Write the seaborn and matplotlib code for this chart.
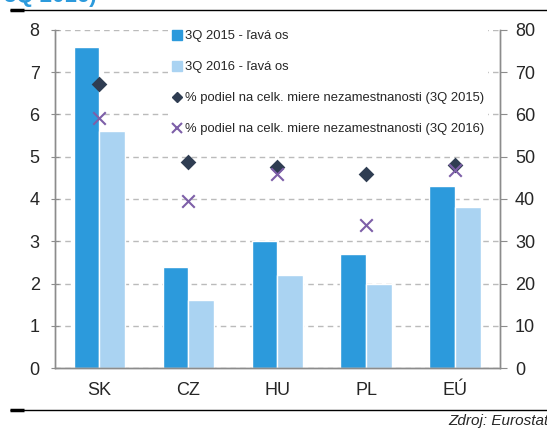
import numpy as np
import pandas as pd
import seaborn as sns
import matplotlib.pyplot as plt
from matplotlib.lines import Line2D
from matplotlib import font_manager

countries = ["SK", "CZ", "HU", "PL", "EÚ"]
rate_2015 = [7.6, 2.4, 3.0, 2.7, 4.3]
rate_2016 = [5.6, 1.6, 2.2, 2.0, 3.8]
share_2015 = [67.3, 48.8, 47.6, 45.8, 48.0]
share_2016 = [59.2, 39.4, 46.0, 33.8, 46.8]
lab_b15 = "3Q 2015 - ľavá os"
lab_b16 = "3Q 2016 - ľavá os"
lab_s15 = "% podiel na celk. miere nezamestnanosti (3Q 2015)"
lab_s16 = "% podiel na celk. miere nezamestnanosti (3Q 2016)"

c15 = "#2C9ADC"
c16 = "#AAD3F2"
c_dia = "#2F3D52"
c_x = "#7D5FA8"
grey = "#8C8C8C"

names = {f.name for f in font_manager.fontManager.ttflist}
fam = "Liberation Sans Narrow" if "Liberation Sans Narrow" in names else "Liberation Sans"

sns.set_style("white")
plt.rcParams["font.family"] = [fam, "DejaVu Sans"]

df = pd.DataFrame({
    "country": countries * 2,
    "rate": rate_2015 + rate_2016,
    "serie": [lab_b15] * 5 + [lab_b16] * 5,
})
df_s = pd.DataFrame({"country": countries, "s15": share_2015, "s16": share_2016})

fig = plt.figure(figsize=(5.47, 4.32), dpi=100)
ax = fig.add_axes([0.1005, 0.148, 0.813, 0.783])

sns.barplot(ax=ax, data=df, x="country", y="rate", hue="serie", order=countries,
            palette=[c15, c16], width=0.58, gap=0, saturation=1, legend=False)
ax.set_ylim(0, 8)
ax.set_xlim(-0.5, 4.5)
ax.set_yticks(np.arange(0, 9, 1))
ax.yaxis.grid(True, linestyle=(0, (4, 3)), color="#BBBBBB", linewidth=1)
ax.set_axisbelow(True)
ax.set_xlabel("")
ax.set_ylabel("")

ax2 = ax.twinx()
sns.stripplot(ax=ax2, data=df_s, x="country", y="s15", order=countries, jitter=False,
              marker="D", size=8, color=c_dia, linewidth=0)
sns.stripplot(ax=ax2, data=df_s, x="country", y="s16", order=countries, jitter=False,
              marker="x", size=9, color=c_x, linewidth=1.5)
ax2.set_ylim(0, 80)
ax2.set_xlim(-0.5, 4.5)
ax2.set_yticks(np.arange(0, 81, 10))
ax2.set_ylabel("")
ax2.set_xlabel("")

for a in (ax, ax2):
    for s in ("left", "right", "bottom"):
        a.spines[s].set_visible(True)
        a.spines[s].set_color(grey)
        a.spines[s].set_linewidth(1)
    a.spines["top"].set_visible(False)

ax.set_xticks(range(5))
ax.set_xticklabels(countries, fontsize=13)
ax.set_xticks(np.arange(-0.5, 5, 1), minor=True)
ax.tick_params(axis="x", which="major", length=0, pad=10)
ax.tick_params(axis="x", which="minor", length=5, color=grey, direction="out")
ax.tick_params(axis="y", which="major", left=True, length=6, direction="inout", color=grey,
               labelsize=13, pad=8)
ax2.tick_params(axis="y", right=True, length=5, direction="out", color=grey, labelsize=13, pad=6)

handles = [
    Line2D([], [], marker="s", linestyle="", color=c15, markersize=6.5),
    Line2D([], [], marker="s", linestyle="", color=c16, markersize=6.5),
    Line2D([], [], marker="D", linestyle="", color=c_dia, markersize=5.5),
    Line2D([], [], marker="x", linestyle="", color=c_x, markersize=6.5, markeredgewidth=1.5),
]
leg = ax2.legend(handles, [lab_b15, lab_b16, lab_s15, lab_s16], loc="upper left",
                 bbox_to_anchor=(0.24, 1.03), frameon=True, fontsize=9.4,
                 handlelength=0.7, handletextpad=0.25, labelspacing=1.45,
                 borderpad=0.3)
leg.get_frame().set_edgecolor("none")
leg.get_frame().set_facecolor("white")
leg.get_frame().set_alpha(1)

# header / footer rules
for yy in (0.977, 0.051):
    fig.add_artist(Line2D([0.018, 1.0], [yy, yy], color="black", linewidth=1,
                          solid_capstyle="butt"))
    fig.add_artist(Line2D([0.018, 0.044], [yy, yy], color="black", linewidth=2.5,
                          solid_capstyle="butt"))
fig.text(0.008, 1.008, "3Q 2016)", color="#2C9ADC", fontsize=16, fontweight="bold",
         ha="left", va="center")
fig.text(1.003, 0.025, "Zdroj: Eurostat", fontstyle="italic", fontsize=11,
         ha="right", va="center")

fig.savefig("out.png", dpi=100)
